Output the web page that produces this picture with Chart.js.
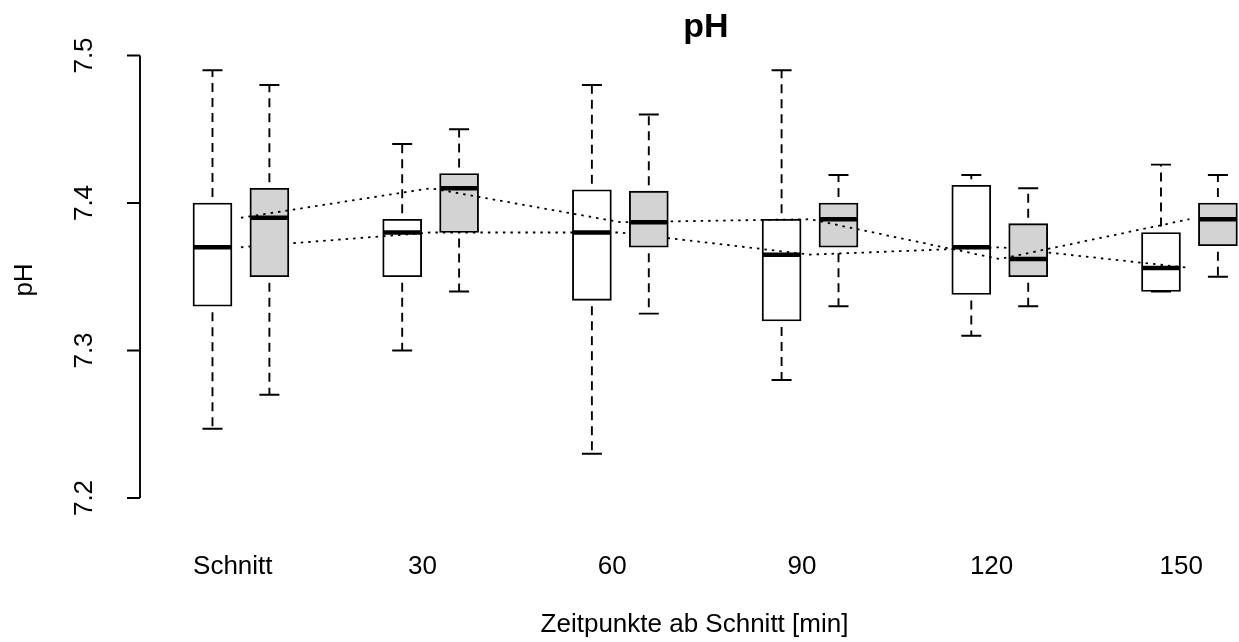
<!DOCTYPE html>
<html>
<head>
<meta charset="utf-8">
<title>pH</title>
<script src="https://cdn.jsdelivr.net/npm/chart.js@4"></script>
<style>
  html, body { margin: 0; padding: 0; background: #fff; }
  #wrap { width: 1239px; height: 642px; }
</style>
</head>
<body>
<div id="wrap"><canvas id="ph" width="1239" height="642"></canvas></div>
<script>
// Zeitpunkte
var groups = ["Schnitt", "30", "60", "90", "120", "150"];

// weisse Boxen (links)
var whiteMin = [7.247, 7.300, 7.230, 7.280, 7.310, 7.340];
var whiteQ1  = [7.330, 7.350, 7.334, 7.320, 7.338, 7.340];
var whiteMed = [7.370, 7.380, 7.380, 7.365, 7.370, 7.356];
var whiteQ3  = [7.400, 7.389, 7.409, 7.389, 7.412, 7.380];
var whiteMax = [7.490, 7.440, 7.480, 7.490, 7.419, 7.426];

// graue Boxen (rechts)
var grayMin = [7.270, 7.340, 7.325, 7.330, 7.330, 7.350];
var grayQ1  = [7.350, 7.380, 7.370, 7.370, 7.350, 7.371];
var grayMed = [7.390, 7.410, 7.387, 7.389, 7.362, 7.389];
var grayQ3  = [7.410, 7.420, 7.408, 7.400, 7.386, 7.400];
var grayMax = [7.480, 7.450, 7.460, 7.419, 7.410, 7.419];

var yTicks = [7.2, 7.3, 7.4, 7.5];

var SHIFT = 0.15;       // Abstand der Boxen von der Gruppenmitte
var LABEL_SHIFT = 0.043;
var FONT = "'Liberation Sans', Arial, Helvetica, sans-serif";

function boxData(q1, q3, dx) {
  return groups.map(function (g, i) { return { x: i + 1 + dx, y: [q1[i], q3[i]] }; });
}
function lineData(med) {
  return groups.map(function (g, i) { return { x: i + 1, y: med[i] }; });
}

// Whisker + Median fuer jede Box, direkt nach dem Datensatz gezeichnet
var boxExtras = {
  id: "boxExtras",
  afterDatasetDraw: function (chart, args) {
    var ds = chart.data.datasets[args.index];
    if (!ds.stats) return;
    var ctx = chart.ctx, ys = chart.scales.y, s = ds.stats;
    ctx.save();
    ctx.strokeStyle = "#000";
    args.meta.data.forEach(function (el, i) {
      var x = el.x, half = el.width / 2;
      var pMin = ys.getPixelForValue(s.min[i]), pQ1 = ys.getPixelForValue(s.q1[i]);
      var pQ3 = ys.getPixelForValue(s.q3[i]), pMax = ys.getPixelForValue(s.max[i]);
      var pMed = ys.getPixelForValue(s.med[i]);
      // gestrichelte Whisker
      ctx.lineWidth = 1.9;
      ctx.setLineDash([9, 6]);
      ctx.lineDashOffset = 9;
      ctx.beginPath();
      ctx.moveTo(x, pQ3); ctx.lineTo(x, pMax);
      ctx.stroke();
      ctx.beginPath();
      ctx.moveTo(x, pQ1); ctx.lineTo(x, pMin);
      ctx.stroke();
      // Endstriche
      ctx.setLineDash([]);
      ctx.beginPath();
      ctx.moveTo(x - 10, pMax); ctx.lineTo(x + 10, pMax);
      ctx.moveTo(x - 10, pMin); ctx.lineTo(x + 10, pMin);
      ctx.stroke();
      // Median
      ctx.lineWidth = 4.5;
      ctx.beginPath();
      ctx.moveTo(x - half + 1, pMed); ctx.lineTo(x + half - 1, pMed);
      ctx.stroke();
    });
    ctx.restore();
  }
};

// Achsen und Beschriftung im R-Stil
var rAxes = {
  id: "rAxes",
  afterDraw: function (chart) {
    var ctx = chart.ctx, xs = chart.scales.x, ys = chart.scales.y;
    var left = chart.chartArea.left;
    ctx.save();
    ctx.strokeStyle = "#000";
    ctx.fillStyle = "#000";
    ctx.lineWidth = 1.9;
    ctx.beginPath();
    ctx.moveTo(left, ys.getPixelForValue(yTicks[0]));
    ctx.lineTo(left, ys.getPixelForValue(yTicks[yTicks.length - 1]));
    yTicks.forEach(function (t) {
      var py = ys.getPixelForValue(t);
      ctx.moveTo(left - 13, py);
      ctx.lineTo(left, py);
    });
    ctx.stroke();

    ctx.font = "26px " + FONT;
    ctx.textAlign = "center";
    ctx.textBaseline = "alphabetic";
    yTicks.forEach(function (t) {
      ctx.save();
      ctx.translate(92, ys.getPixelForValue(t));
      ctx.rotate(-Math.PI / 2);
      ctx.fillText(t.toFixed(1), 0, 0);
      ctx.restore();
    });
    ctx.save();
    ctx.translate(32, 280);
    ctx.rotate(-Math.PI / 2);
    ctx.fillText("pH", 0, 0);
    ctx.restore();

    groups.forEach(function (g, i) {
      ctx.fillText(g, xs.getPixelForValue(i + 1 - LABEL_SHIFT), 573.5);
    });
    ctx.fillText("Zeitpunkte ab Schnitt [min]", 694.5, 632);

    ctx.font = "bold 34px " + FONT;
    ctx.fillText("pH", 706, 37.3);
    ctx.restore();
  }
};

var ctx = document.getElementById("ph");
var chart = new Chart(ctx, {
  type: "bar",
  data: {
    datasets: [
      {
        label: "weiss",
        data: boxData(whiteQ1, whiteQ3, -SHIFT),
        stats: { min: whiteMin, q1: whiteQ1, med: whiteMed, q3: whiteQ3, max: whiteMax },
        backgroundColor: "#ffffff",
        borderColor: "#000",
        borderWidth: 1.9,
        borderSkipped: false,
        barThickness: 39,
        maxBarThickness: 39,
        grouped: false,
        order: 4
      },
      {
        type: "line",
        label: "Median weiss",
        data: lineData(whiteMed),
        borderColor: "#000",
        borderWidth: 1.8,
        borderDash: [2.5, 5],
        pointRadius: 0,
        fill: false,
        tension: 0,
        order: 3
      },
      {
        label: "grau",
        data: boxData(grayQ1, grayQ3, SHIFT),
        stats: { min: grayMin, q1: grayQ1, med: grayMed, q3: grayQ3, max: grayMax },
        backgroundColor: "#d3d3d3",
        borderColor: "#000",
        borderWidth: 1.9,
        borderSkipped: false,
        barThickness: 39,
        maxBarThickness: 39,
        grouped: false,
        order: 2
      },
      {
        type: "line",
        label: "Median grau",
        data: lineData(grayMed),
        borderColor: "#000",
        borderWidth: 1.8,
        borderDash: [2.5, 5],
        pointRadius: 0,
        fill: false,
        tension: 0,
        order: 1
      }
    ]
  },
  options: {
    responsive: false,
    animation: false,
    events: [],
    layout: { padding: { left: 140, top: 55.5, right: 0, bottom: 144 } },
    scales: {
      x: { type: "linear", min: 0.4679, max: 6.2612, offset: false, display: false },
      y: { type: "linear", min: 7.2, max: 7.5, beginAtZero: false, display: false }
    },
    plugins: {
      legend: { display: false },
      tooltip: { enabled: false },
      title: { display: false }
    }
  },
  plugins: [boxExtras, rAxes]
});
</script>
</body>
</html>
